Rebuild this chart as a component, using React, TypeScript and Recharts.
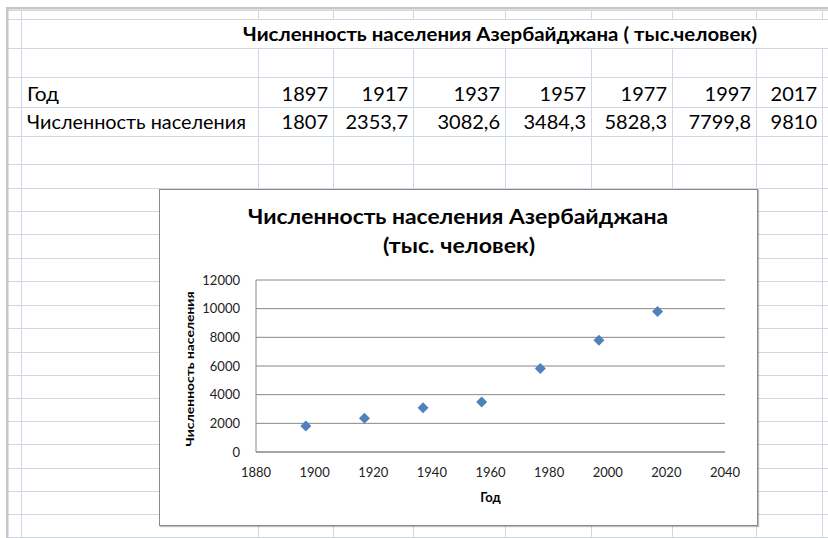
import React from 'react';
import { ScatterChart, Scatter, XAxis, YAxis, CartesianGrid, Label } from 'recharts';

const years = [1897, 1917, 1937, 1957, 1977, 1997, 2017];
const population = [1807, 2353.7, 3082.6, 3484.3, 5828.3, 7799.8, 9810];
const populationLabels = ['1807', '2353,7', '3082,6', '3484,3', '5828,3', '7799,8', '9810'];
const xTicks = [1880, 1900, 1920, 1940, 1960, 1980, 2000, 2020, 2040];
const yTicks = [0, 2000, 4000, 6000, 8000, 10000, 12000];

const sheetTitle = 'Численность населения Азербайджана ( тыс.человек)';
const chartTitle1 = 'Численность населения Азербайджана';
const chartTitle2 = '(тыс. человек)';
const rowYearLabel = 'Год';
const rowPopLabel = 'Численность населения';
const xAxisTitle = 'Год';
const yAxisTitle = 'Численность населения';

// spreadsheet layout
const rowLines = [10, 19, 48, 77, 107, 136, 164, 188, 211, 234, 258, 281, 305, 328, 352, 375, 398, 421, 444, 468, 491, 514, 537];
const colLines = [21, 258, 333, 413, 505, 591, 672, 756, 822];
const valueCols = [333, 413, 505, 591, 672, 756, 822];

const data = years.map((y, i) => ({ year: y, pop: population[i] }));

const GRID = '#d0d7e5';
const FONT = 'Lato, "Open Sans", sans-serif';

const Diamond = (props: any) => {
  const { cx, cy } = props;
  if (cx == null || cy == null) return null;
  const r = 5.5;
  return (
    <path
      d={`M${cx},${cy - r}L${cx + r},${cy}L${cx},${cy + r}L${cx - r},${cy}Z`}
      fill="#4F81BD"
    />
  );
};

const Sheet = () => {
  const verticals: React.ReactNode[] = [];
  colLines.forEach((x, ci) => {
    for (let r = 0; r < rowLines.length - 1; r++) {
      const y1 = rowLines[r];
      const y2 = rowLines[r + 1];
      // merged title row
      if (y1 === 19 && x !== 21) continue;
      verticals.push(<line key={`v${ci}-${r}`} x1={x + 0.5} x2={x + 0.5} y1={y1} y2={y2} stroke={GRID} strokeWidth={1} />);
    }
    verticals.push(<line key={`v${ci}-end`} x1={x + 0.5} x2={x + 0.5} y1={537} y2={538} stroke={GRID} strokeWidth={1} />);
  });
  return (
    <svg width={828} height={538} style={{ position: 'absolute', left: 0, top: 0 }}>
      <rect x={0} y={0} width={828} height={538} fill="#ffffff" />
      {rowLines.map((y, i) => (
        <line key={`h${i}`} x1={8} x2={828} y1={y + 0.5} y2={y + 0.5} stroke={GRID} strokeWidth={1} />
      ))}
      {verticals}
      <rect x={6} y={7} width={822} height={2.5} fill="#c6c6c6" />
      <rect x={6} y={7} width={2.5} height={531} fill="#c6c6c6" />
      <text x={243} y={41} fontFamily={FONT} fontWeight={700} fontSize={18} fill="#000" textLength={514} lengthAdjust="spacingAndGlyphs">
        {sheetTitle}
      </text>
      <text x={27} y={101} fontFamily={FONT} fontSize={20} fill="#000" textLength={32} lengthAdjust="spacingAndGlyphs">
        {rowYearLabel}
      </text>
      <text x={27} y={129} fontFamily={FONT} fontSize={20} fill="#000" textLength={219} lengthAdjust="spacingAndGlyphs">
        {rowPopLabel}
      </text>
      {years.map((y, i) => (
        <text key={`yr${i}`} x={valueCols[i] - 5} y={101} fontFamily={FONT} fontSize={20} fill="#000" textAnchor="end">
          {String(y)}
        </text>
      ))}
      {populationLabels.map((p, i) => (
        <text key={`pp${i}`} x={valueCols[i] - 5} y={129} fontFamily={FONT} fontSize={20} fill="#000" textAnchor="end">
          {p}
        </text>
      ))}
    </svg>
  );
};

export default function App() {
  return (
    <div style={{ position: 'absolute', left: 0, top: 0, width: 828, height: 538, overflow: 'hidden', background: '#fff' }}>
      <Sheet />
      <div
        style={{
          position: 'absolute',
          left: 159,
          top: 189,
          width: 599,
          height: 337,
          boxSizing: 'border-box',
          border: '1px solid #8a8a8a',
          boxShadow: '1px 1px 1px rgba(0,0,0,0.25)',
          background: '#ffffff',
        }}
      >
        <ScatterChart width={597} height={335} margin={{ top: 90, right: 32, left: 0, bottom: 0 }}>
          <CartesianGrid horizontal={true} vertical={false} stroke="#868686" strokeWidth={1} />
          <XAxis
            type="number"
            dataKey="year"
            domain={[1880, 2040]}
            ticks={xTicks}
            interval={0}
            height={73}
            tickLine={false}
            tickSize={0}
            tickMargin={16}
            axisLine={{ stroke: '#868686' }}
            tick={{ fontSize: 13, fontFamily: FONT, fill: '#222' }}
          >
            <Label
              content={(props: any) => {
                const vb = props.viewBox || {};
                return (
                  <text
                    x={vb.x + vb.width / 2}
                    y={vb.y + 50}
                    textAnchor="middle"
                    fontFamily={FONT}
                    fontWeight={700}
                    fontSize={13}
                    fill="#000"
                  >
                    {xAxisTitle}
                  </text>
                );
              }}
            />
          </XAxis>
          <YAxis
            type="number"
            dataKey="pop"
            domain={[0, 12000]}
            ticks={yTicks}
            interval={0}
            width={96}
            tickLine={false}
            tickSize={0}
            tickMargin={16}
            axisLine={{ stroke: '#868686' }}
            tick={{ fontSize: 13, fontFamily: FONT, fill: '#222' }}
          >
            <Label
              content={(props: any) => {
                const vb = props.viewBox || {};
                const cx = vb.x + 34;
                const cy = vb.y + vb.height / 2 + 3;
                return (
                  <text
                    x={cx}
                    y={cy}
                    transform={`rotate(-90 ${cx} ${cy})`}
                    textAnchor="middle"
                    fontFamily={FONT}
                    fontWeight={700}
                    fontSize={12}
                    fill="#000"
                    textLength={155}
                    lengthAdjust="spacingAndGlyphs"
                  >
                    {yAxisTitle}
                  </text>
                );
              }}
            />
          </YAxis>
          <Scatter data={data} shape={Diamond} isAnimationActive={false} />
        </ScatterChart>
      </div>
      <svg width={828} height={538} style={{ position: 'absolute', left: 0, top: 0, pointerEvents: 'none' }}>
        <text x={458} y={224} textAnchor="middle" fontFamily={FONT} fontWeight={700} fontSize={21} fill="#000" textLength={420} lengthAdjust="spacingAndGlyphs">
          {chartTitle1}
        </text>
        <text x={459} y={253} textAnchor="middle" fontFamily={FONT} fontWeight={700} fontSize={21} fill="#000" textLength={152} lengthAdjust="spacingAndGlyphs">
          {chartTitle2}
        </text>
      </svg>
    </div>
  );
}
